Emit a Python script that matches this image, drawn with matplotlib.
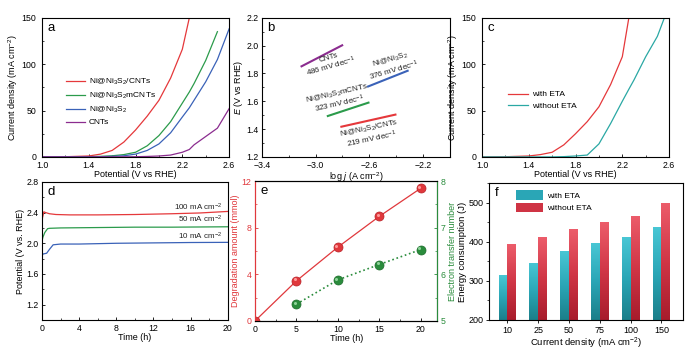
import numpy as np
import matplotlib
matplotlib.use("Agg")
import matplotlib.pyplot as plt
from matplotlib.ticker import MultipleLocator
from matplotlib.patches import Patch
from matplotlib.colors import LinearSegmentedColormap
import matplotlib.transforms as mtransforms

plt.rcParams['font.family'] = ['Liberation Sans', 'DejaVu Sans']
plt.rcParams['mathtext.fontset'] = 'custom'
plt.rcParams['mathtext.rm'] = 'Liberation Sans'
plt.rcParams['mathtext.it'] = 'Liberation Sans:italic'
plt.rcParams['font.size'] = 6.5
plt.rcParams['axes.linewidth'] = 0.8

# ---------------- data ----------------
# panel a: LSV curves
a_v = [1.0, 1.2, 1.4, 1.5, 1.6, 1.7, 1.8, 1.9, 2.0, 2.1, 2.2, 2.26, 2.3, 2.4, 2.5, 2.6]
a_red = [0, 0.2, 1, 3, 7, 16, 29, 44, 61, 85, 116, 150, None, None, None, None]
a_green = [0, 0, 0.3, 0.6, 1.2, 2.5, 5, 12, 23, 38, 58, 70, 79, 104, 135, None]
a_blue = [0, 0, 0.1, 0.3, 0.6, 1.2, 3, 7, 14, 26, 43, 53, 61, 81, 105, 138]
a_purple = [0, 0, 0, 0, 0, 0.1, 0.2, 0.5, 1, 2, 5, 8, 13, 22, 31, 52]
a_labels = ['Ni@Ni$_3$S$_2$/CNTs', 'Ni@Ni$_3$S$_2$mCNTs', 'Ni@Ni$_3$S$_2$', 'CNTs']
pot_ticks = [1.0, 1.4, 1.8, 2.2, 2.6]

# panel b: Tafel lines (log j, E)
b_cnt_x = [-3.105, -2.802]; b_cnt_y = [1.851, 2.002]
b_ni_x = [-2.609, -2.314]; b_ni_y = [1.706, 1.819]
b_m_x = [-2.909, -2.606]; b_m_y = [1.494, 1.590]
b_c_x = [-2.808, -2.405]; b_c_y = [1.417, 1.504]

# panel c
c_v = [1.0, 1.2, 1.4, 1.5, 1.6, 1.7, 1.8, 1.9, 2.0, 2.1, 2.2, 2.256, 2.3, 2.4, 2.5, 2.56]
c_with = [0, 0.2, 1, 2.5, 5, 13, 25, 38, 54, 78, 108, 150, None, None, None, None]
c_without = [0, 0, 0, 0, 0, 0.3, 1, 2, 14, 36, 60, 73, 83, 108, 130, 150]

# panel d: stability
d_t_red = [0, 0.05, 0.2, 0.4, 0.8, 1.5, 3, 6, 10, 14, 17, 20]
d_red = [2.22, 2.33, 2.41, 2.40, 2.385, 2.375, 2.37, 2.37, 2.375, 2.385, 2.395, 2.415]
d_t_green = [0, 0.1, 0.3, 0.6, 0.8, 2, 6, 10, 14, 20]
d_green = [2.03, 2.08, 2.14, 2.19, 2.195, 2.20, 2.205, 2.21, 2.21, 2.215]
d_t_blue = [0, 0.1, 0.5, 0.8, 1.2, 2, 4, 8, 12, 16, 20]
d_blue = [1.83, 1.86, 1.87, 1.92, 1.98, 1.99, 1.99, 2.0, 2.005, 2.01, 2.012]

# panel e
e_t = [0, 5, 10, 15, 20]
e_deg = [0, 3.44, 6.33, 8.97, 11.38]
e_t2 = [5, 10, 15, 20]
e_n = [5.36, 5.88, 6.21, 6.53]

# panel f
f_cats = ['10', '25', '50', '75', '100', '150']
f_with = [314, 345, 376, 396, 411, 437]
f_without = [392, 411, 432, 449, 465, 498]

RED = '#e5383b'
GREEN = '#2b9b4b'
BLUE = '#3a62b8'
PURPLE = '#8b2c8f'
TEAL = '#2aa8a4'
TXT = '#222222'

fig = plt.figure(figsize=(6.93, 3.55), dpi=100)

def style(ax, direction='in', ypad=2.6):
    ax.tick_params(which='both', direction=direction, labelsize=6.3)
    ax.tick_params(axis='x', which='both', pad=2.8)
    ax.tick_params(axis='y', which='both', pad=ypad)
    ax.tick_params(which='major', length=2.5, width=0.6)
    ax.tick_params(which='minor', length=1.5, width=0.5)

def letter(ax, s):
    ax.text(0.03, 0.97, s, transform=ax.transAxes, ha='left', va='top', fontsize=9.5)

def arr(lst):
    return np.array([np.nan if v is None else v for v in lst], dtype=float)

# ---- a ----
ax = fig.add_axes([0.0606, 0.558, 0.270, 0.392])
for y, c, l in zip([a_red, a_green, a_blue, a_purple], [RED, GREEN, BLUE, PURPLE], a_labels):
    ax.plot(a_v, arr(y), color=c, lw=0.9, label=l)
ax.set_xlim(1.0, 2.6); ax.set_ylim(0, 150)
ax.set_xticks(pot_ticks); ax.xaxis.set_minor_locator(MultipleLocator(0.2))
ax.yaxis.set_major_locator(MultipleLocator(50)); ax.yaxis.set_minor_locator(MultipleLocator(25))
ax.set_xlabel('Potential (V vs RHE)', labelpad=0.2)
ax.set_ylabel('Current density (mA cm$^{-2}$)', labelpad=1)
style(ax, ypad=4)
ax.legend(loc='upper left', bbox_to_anchor=(0.09, 0.63), frameon=False, fontsize=6,
          handlelength=2.2, handletextpad=0.5, labelspacing=0.45)
letter(ax, 'a')

# ---- b ----
ax = fig.add_axes([0.378, 0.558, 0.271, 0.392])
ax.plot(b_cnt_x, b_cnt_y, color=PURPLE, lw=1.5)
ax.plot(b_ni_x, b_ni_y, color=BLUE, lw=1.5)
ax.plot(b_m_x, b_m_y, color=GREEN, lw=1.5)
ax.plot(b_c_x, b_c_y, color=RED, lw=1.5)
ax.set_xlim(-3.4, -2.0); ax.set_ylim(1.2, 2.2)
ax.set_xticks([-3.4, -3.0, -2.6, -2.2])
ax.xaxis.set_minor_locator(MultipleLocator(0.2))
ax.yaxis.set_major_locator(MultipleLocator(0.2)); ax.yaxis.set_minor_locator(MultipleLocator(0.1))
ax.set_xlabel('log $j$ (A cm$^{-2}$)', labelpad=0.2)
ax.set_ylabel('$E$ (V vs RHE)', labelpad=1)
style(ax)
kw = dict(ha='center', va='center', fontsize=5.8, color=TXT, linespacing=1.0)
ax.text(-2.89, 1.875, 'CNTs\n486 mV dec$^{-1}$', rotation=16, **kw)
ax.text(-2.43, 1.855, 'Ni@Ni$_3$S$_2$\n376 mV dec$^{-1}$', rotation=16, **kw)
ax.text(-2.83, 1.615, 'Ni@Ni$_3$S$_2$mCNTs\n323 mV dec$^{-1}$', rotation=13, **kw)
ax.text(-2.589, 1.36, 'Ni@Ni$_3$S$_2$/CNTs\n219 mV dec$^{-1}$', rotation=12, **kw)
letter(ax, 'b')

# ---- c ----
ax = fig.add_axes([0.6955, 0.558, 0.270, 0.392])
ax.plot(c_v, arr(c_with), color=RED, lw=0.9, label='with ETA')
ax.plot(c_v, arr(c_without), color=TEAL, lw=0.9, label='without ETA')
ax.set_xlim(1.0, 2.6); ax.set_ylim(0, 150)
ax.set_xticks(pot_ticks); ax.xaxis.set_minor_locator(MultipleLocator(0.2))
ax.yaxis.set_major_locator(MultipleLocator(50)); ax.yaxis.set_minor_locator(MultipleLocator(25))
ax.set_xlabel('Potential (V vs RHE)', labelpad=0.2)
ax.set_ylabel('Current density (mA cm$^{-2}$)', labelpad=1)
style(ax, ypad=4)
ax.legend(loc='upper left', bbox_to_anchor=(0.1, 0.53), frameon=False, fontsize=6,
          handlelength=2.4, handletextpad=0.5, labelspacing=0.45)
letter(ax, 'c')

# ---- d ----
ax = fig.add_axes([0.0606, 0.0986, 0.268, 0.389])
ax.plot(d_t_red, d_red, color=RED, lw=0.9)
ax.plot(d_t_green, d_green, color=GREEN, lw=0.9)
ax.plot(d_t_blue, d_blue, color=BLUE, lw=0.9)
ax.set_xlim(0, 20); ax.set_ylim(1.0, 2.8)
ax.xaxis.set_major_locator(MultipleLocator(4)); ax.xaxis.set_minor_locator(MultipleLocator(2))
ax.set_yticks([1.2, 1.6, 2.0, 2.4, 2.8]); ax.yaxis.set_minor_locator(MultipleLocator(0.2))
ax.set_xlabel('Time (h)', labelpad=0.2)
ax.set_ylabel('Potential (V vs. RHE)', labelpad=1)
style(ax)
kw = dict(ha='right', va='center', fontsize=5.8, color=TXT)
ax.text(19.4, 2.465, '100 mA cm$^{-2}$', **kw)
ax.text(19.4, 2.31, '50 mA cm$^{-2}$', **kw)
ax.text(19.4, 2.094, '10 mA cm$^{-2}$', **kw)
letter(ax, 'd')

# ---- e ----
ax = fig.add_axes([0.368, 0.096, 0.263, 0.394])
ax2 = ax.twinx()
ERED = '#e0383c'
EGREEN = '#2a8c3c'
ax.plot(e_t, e_deg, color=ERED, lw=0.9, zorder=2)
ax.plot(e_t, e_deg, 'o', color=ERED, ms=6.5, mec='#b82228', mew=0.5, zorder=3)
off = mtransforms.offset_copy(ax.transData, fig=fig, x=-1.0, y=1.0, units='points')
ax.plot(e_t[1:], e_deg[1:], 'o', color='#ff9a9a', ms=2.2, mew=0, transform=off, zorder=4)
ax2.plot(e_t2, e_n, ':', color=EGREEN, lw=1.2, zorder=2)
ax2.plot(e_t2, e_n, 'o', color=EGREEN, ms=6.5, mec='#1d6b2c', mew=0.5, zorder=3)
off2 = mtransforms.offset_copy(ax2.transData, fig=fig, x=-1.0, y=1.0, units='points')
ax2.plot(e_t2, e_n, 'o', color='#8fd39a', ms=2.2, mew=0, transform=off2, zorder=4)
ax.set_xlim(0, 22); ax.set_ylim(0, 12); ax2.set_ylim(5, 8)
ax.xaxis.set_major_locator(MultipleLocator(5)); ax.xaxis.set_minor_locator(MultipleLocator(2.5))
ax.yaxis.set_major_locator(MultipleLocator(4)); ax.yaxis.set_minor_locator(MultipleLocator(2))
ax2.yaxis.set_major_locator(MultipleLocator(1)); ax2.yaxis.set_minor_locator(MultipleLocator(0.5))
style(ax); style(ax2)
ax.tick_params(axis='y', which='both', colors=ERED)
ax2.tick_params(axis='y', which='both', colors=EGREEN)
ax.spines['left'].set_color(ERED)
ax2.spines['left'].set_color(ERED)
ax2.spines['right'].set_color(EGREEN)
ax.set_xlabel('Time (h)', labelpad=0.2)
ax.set_ylabel('Degradation amount (mmol)', color=ERED, labelpad=1)
ax2.set_ylabel('Electron transfer number', color=EGREEN, labelpad=1.5)
letter(ax, 'e')

# ---- f ----
ax = fig.add_axes([0.7056, 0.0986, 0.280, 0.386])
x = np.arange(len(f_cats))
w = 0.29
b1 = ax.bar(x - w / 2, f_with, w, bottom=0, color='none', edgecolor='none')
b2 = ax.bar(x + w / 2, f_without, w, bottom=0, color='none', edgecolor='none')
cm_teal = LinearSegmentedColormap.from_list('t', ['#1b7f8a', '#2aa6b6', '#48c6d4'])
cm_red = LinearSegmentedColormap.from_list('r', ['#a81c2c', '#d03646', '#ec5c6a'])
grad = np.linspace(0, 1, 64).reshape(-1, 1)
for bars, cmap in [(b1, cm_teal), (b2, cm_red)]:
    for p in bars:
        x0 = p.get_x(); x1 = x0 + p.get_width(); top = p.get_height()
        ax.imshow(grad, extent=(x0, x1, 200, top), origin='lower', aspect='auto',
                  cmap=cmap, zorder=2)
ax.set_xlim(-0.6, 5.7); ax.set_ylim(200, 550)
ax.set_xticks(x); ax.set_xticklabels(f_cats)
ax.yaxis.set_major_locator(MultipleLocator(100)); ax.yaxis.set_minor_locator(MultipleLocator(50))
style(ax, 'out')
ax.tick_params(axis='x', which='minor', length=0)
ax.tick_params(labelsize=6.5, pad=1.5)
ax.set_xlabel('Current density (mA cm$^{-2}$)', fontsize=6.8, labelpad=1)
ax.set_ylabel('Energy consumption (J)', fontsize=6.8, labelpad=1)
ax.legend(handles=[Patch(facecolor='#2aa6b6', label='with ETA'),
                   Patch(facecolor='#cf3444', label='without ETA')],
          loc='upper left', bbox_to_anchor=(0.1, 1.0), frameon=False, fontsize=6,
          handlelength=3.2, handleheight=1.4, handletextpad=0.5, labelspacing=0.3)
letter(ax, 'f')

fig.savefig('out.png', dpi=100)
